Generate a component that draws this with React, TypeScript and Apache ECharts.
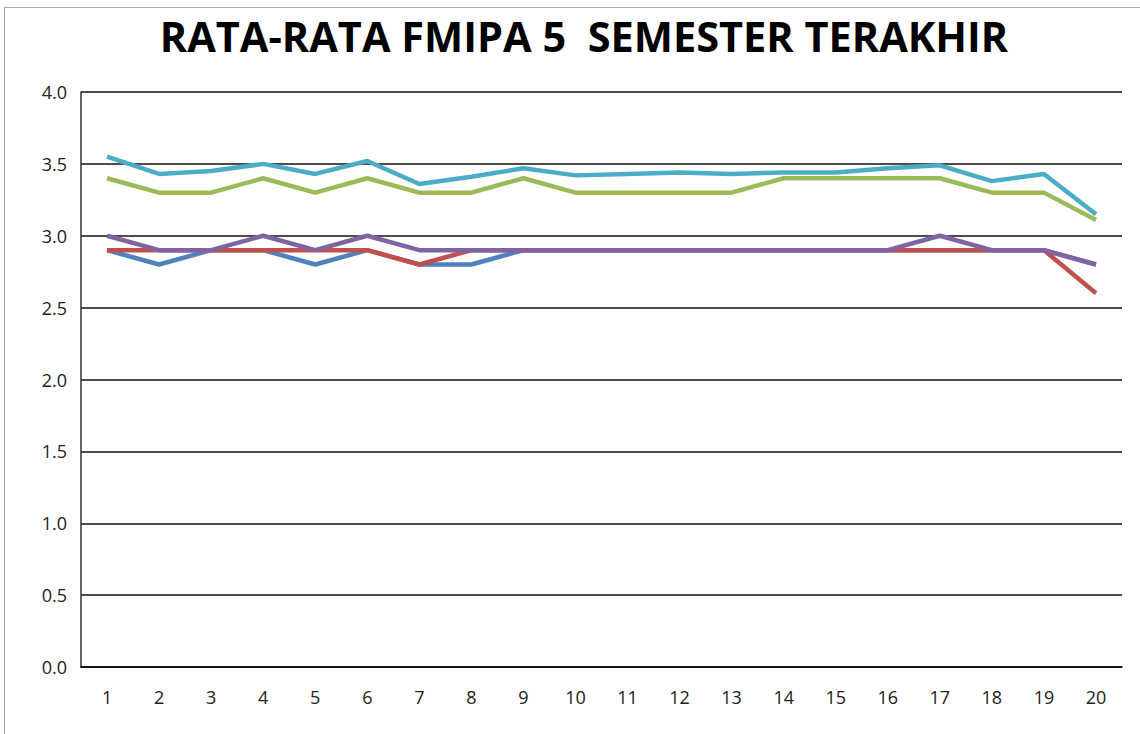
import React, { useEffect, useRef } from "react";
import * as echarts from "echarts";

const categories = ["1","2","3","4","5","6","7","8","9","10","11","12","13","14","15","16","17","18","19","20"];
const seriesBlue = [2.9,2.8,2.9,2.9,2.8,2.9,2.8,2.8,2.9,2.9,2.9,2.9,2.9,2.9,2.9,2.9,2.9,2.9,2.9,2.8];
const seriesRed = [2.9,2.9,2.9,2.9,2.9,2.9,2.8,2.9,2.9,2.9,2.9,2.9,2.9,2.9,2.9,2.9,2.9,2.9,2.9,2.6];
const seriesGreen = [3.4,3.3,3.3,3.4,3.3,3.4,3.3,3.3,3.4,3.3,3.3,3.3,3.3,3.4,3.4,3.4,3.4,3.3,3.3,3.11];
const seriesPurple = [3.0,2.9,2.9,3.0,2.9,3.0,2.9,2.9,2.9,2.9,2.9,2.9,2.9,2.9,2.9,2.9,3.0,2.9,2.9,2.8];
const seriesCyan = [3.55,3.43,3.45,3.5,3.43,3.52,3.36,3.41,3.47,3.42,3.43,3.44,3.43,3.44,3.44,3.47,3.49,3.38,3.43,3.15];
const titleText = "RATA-RATA FMIPA 5  SEMESTER TERAKHIR";

const colors = ["#4F81BD", "#C0504D", "#9BBB59", "#8064A2", "#4BACC6"];

export default function App() {
  const ref = useRef<HTMLDivElement>(null);
  useEffect(() => {
    if (!ref.current) return;
    const chart = echarts.init(ref.current, null, { renderer: "svg" });
    const mk = (name: string, data: number[], color: string) => ({
      name,
      type: "line",
      data,
      symbol: "none",
      lineStyle: { color, width: 4.5 },
      itemStyle: { color },
    });
    chart.setOption({
      animation: false,
      backgroundColor: "#fff",
      title: {
        text: titleText,
        left: 579,
        textAlign: "center",
        top: 10,
        textStyle: {
          fontFamily: "Open Sans",
          fontWeight: "bold",
          fontSize: 41.5,
          color: "#000",
        },
      },
      graphic: [
        {
          type: "rect",
          shape: { x: 4.5, y: 7.5, width: 1200, height: 800 },
          style: { fill: "none", stroke: "#a6a6a6", lineWidth: 1 },
          silent: true,
        },
      ],
      grid: { left: 81, right: 18, top: 92, bottom: 67 },
      xAxis: {
        type: "category",
        data: categories,
        boundaryGap: true,
        axisLine: { lineStyle: { color: "#000", width: 1.5 } },
        axisTick: { show: false },
        axisLabel: { color: "#222", fontSize: 18, margin: 21, fontFamily: "Open Sans" },
      },
      yAxis: {
        type: "value",
        min: 0,
        max: 4,
        interval: 0.5,
        axisLine: { show: true, lineStyle: { color: "#333", width: 1.5 } },
        axisTick: { show: false },
        axisLabel: {
          color: "#222",
          fontSize: 18,
          margin: 14,
          fontFamily: "Open Sans",
          formatter: (v: number) => v.toFixed(1),
        },
        splitLine: { lineStyle: { color: "#111", width: 1.5 } },
      },
      series: [
        mk("Series1", seriesBlue, colors[0]),
        mk("Series2", seriesRed, colors[1]),
        mk("Series3", seriesGreen, colors[2]),
        mk("Series4", seriesPurple, colors[3]),
        mk("Series5", seriesCyan, colors[4]),
      ],
    });
    return () => chart.dispose();
  }, []);
  return <div ref={ref} style={{ width: 1140, height: 734, position: "absolute", left: 0, top: 0 }} />;
}
